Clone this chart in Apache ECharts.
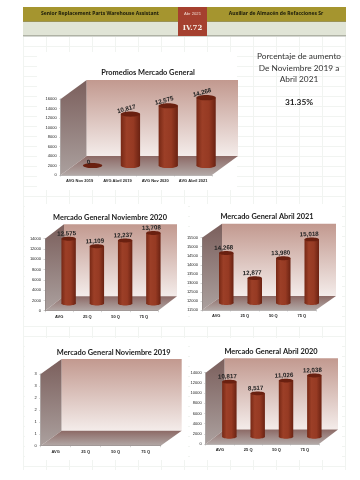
<!DOCTYPE html>
<html><head><meta charset="utf-8">
<style>
html,body{margin:0;padding:0;background:#fff}
#bg{position:absolute;left:23px;top:36px;width:323px;height:434px;
background-image:linear-gradient(to right,#f1f4f1 1px,transparent 1px),linear-gradient(to bottom,#f1f4f1 1px,transparent 1px);
background-size:23px 10px;}
#c{position:absolute;left:0;top:0;width:360px;height:480px;filter:blur(0.3px)}
</style>
<script src="https://cdn.jsdelivr.net/npm/echarts@6/dist/echarts.min.js"></script>
</head><body><div id="bg"></div><div id="c"></div>
<script>
const summaryCategories = ['AVG Nov 2019','AVG Abril 2019','AVG Nov 2020','AVG Abril 2021'];
const quartileCategories = ['AVG','25 Q','50 Q','75 Q'];
const summaryValues = [0,10817,12575,14268];
const nov2020Values = [12575,11109,12237,13708];
const abr2021Values = [14268,12877,13980,15018];
const nov2019Values = [];
const abr2020Values = [10817,8517,11026,12038];
const titles = ['Promedios Mercado General','Mercado General Noviembre 2020','Mercado General Abril 2021','Mercado General Noviembre 2019','Mercado General Abril 2020'];
const percentLines = ['Porcentaje de aumento','De Noviembre 2019 a','Abril 2021'];
const percentValue = '31.35%';

const charts = [
 {cats:summaryCategories,vals:summaryValues,min:0,max:16000,step:2000,box:[60.7,99,151.3,76],depth:[26,-19],title:[143,68],rot:-0.26,ldx:-4,panel:[37,52,200,138]},
 {cats:quartileCategories,vals:nov2020Values,min:0,max:14000,step:2000,box:[45,238.7,113,72],depth:[19,-14.5],title:[105,212.7],rot:-0.04,ldx:-2,panel:[25,204,163,122]},
 {cats:quartileCategories,vals:abr2021Values,min:11500,max:15500,step:500,box:[202,237.7,114,72.3],depth:[20,-14],title:[262,211.7],rot:-0.04,ldx:-2.5,panel:[190,204,152,122]},
 {cats:quartileCategories,vals:nov2019Values,min:0,max:3,step:0.5,box:[40.7,374,120,71.7],depth:[21,-15],title:[108.7,347.7],rot:0,ldx:0,panel:[25,338,163,122]},
 {cats:quartileCategories,vals:abr2020Values,min:0,max:14000,step:2000,box:[205.7,372.7,113.3,71.3],depth:[19,-14.5],title:[266,346.7],rot:-0.04,ldx:-2,panel:[190,338,152,122]}
];

const fontSans = 'Lato, "Noto Sans", sans-serif';
const vGrad = (a,b)=>new echarts.graphic.LinearGradient(0,0,0,1,[{offset:0,color:a},{offset:1,color:b}]);
const cyl = new echarts.graphic.LinearGradient(0,0,1,0,[
 {offset:0,color:'#762815'},{offset:0.3,color:'#9c3f27'},{offset:0.65,color:'#963a23'},{offset:1,color:'#6a2212'}]);

const grid=[],xAxis=[],yAxis=[],series=[],title=[];
const graphic=[];

charts.forEach((c,i)=>{
 const [gx,gy,gw,gh]=c.box,[dx,dy]=c.depth;
 graphic.push({type:'rect',z:-10,silent:true,shape:{x:c.panel[0],y:c.panel[1],width:c.panel[2],height:c.panel[3]},style:{fill:'#fff'}});
 grid.push({left:gx,top:gy,width:gw,height:gh});
 xAxis.push({type:'category',gridIndex:i,data:c.cats,z:5,
  axisLine:{lineStyle:{color:'#8a8280',width:0.6}},axisTick:{show:true,length:1.5,lineStyle:{color:'#aaa',width:0.5}},
  axisLabel:{interval:0,fontSize:4,fontWeight:'bold',color:'#222',margin:4,fontFamily:'"Liberation Sans",sans-serif'}});
 yAxis.push({type:'value',gridIndex:i,min:c.min,max:c.max,interval:c.step,z:5,
  splitLine:{show:false},axisLine:{show:true,lineStyle:{color:'#8a8280',width:0.6}},axisTick:{show:true,length:1.5,lineStyle:{color:'#aaa',width:0.5}},
  axisLabel:{fontSize:4,color:'#222',margin:4,fontFamily:'"Liberation Sans",sans-serif',
   formatter:(v)=>String(Math.round(v))}});
 title.push({text:titles[i],left:c.title[0],top:c.title[1]-5,textAlign:'center',
  textStyle:{fontSize:7.4,fontWeight:'bold',color:'#1a1a1a',fontFamily:fontSans,lineHeight:10}});
 series.push({type:'custom',xAxisIndex:i,yAxisIndex:i,data:[[0,c.min]],silent:true,z:1,clip:false,
  renderItem:(p)=>{const r=p.coordSys;const x=r.x,y=r.y,w=r.width,h=r.height;
   return {type:'group',children:[
    {type:'polygon',shape:{points:[[x,y+h],[x,y],[x+dx,y+dy],[x+dx,y+h+dy]]},style:{fill:vGrad('#7b5f5c','#aba09e')}},
    {type:'rect',shape:{x:x+dx,y:y+dy,width:w,height:h},style:{fill:vGrad('#c2998f','#f4ecea')}},
    {type:'polygon',shape:{points:[[x,y+h],[x+w,y+h],[x+w+dx,y+h+dy],[x+dx,y+h+dy]]},style:{fill:vGrad('#8c6965','#b2a8a6')}}
   ]};}});
 if(c.vals.length) series.push({type:'custom',xAxisIndex:i,yAxisIndex:i,silent:true,z:3,clip:false,
  encode:{x:0,y:1},data:c.vals.map((v,k)=>[k,v]),
  renderItem:(p,api)=>{
   const k=api.value(0),v=api.value(1);
   const top=api.coord([k,v]),base=api.coord([k,c.min]);
   const bw=api.size([1,0])[0]*0.51,rx=bw/2,ry=bw*0.135;
   const cx=top[0]+dx/2,ty=top[1]+dy/2,by=base[1]+dy/2;
   const kids=[];
   if(v>c.min){
    kids.push({type:'ellipse',shape:{cx:cx,cy:by,rx:rx,ry:ry},style:{fill:cyl}});
    kids.push({type:'rect',shape:{x:cx-rx,y:ty,width:bw,height:by-ty},style:{fill:cyl}});
   }
   kids.push({type:'ellipse',shape:{cx:cx,cy:ty,rx:rx,ry:ry},style:{fill:'#6a2010'}});
   kids.push({type:'text',x:cx+c.ldx,y:ty-(v>c.min?5:3),rotation:-c.rot,
    style:{text:v.toLocaleString('en-US'),align:'center',verticalAlign:'middle',
     font:'bold 6.2px "Liberation Sans",sans-serif',fill:'#222'}});
   return {type:'group',children:kids};
  }});
});

const txt=(t,x,y,font,fill)=>({type:'text',z:20,silent:true,x:x,y:y,style:{text:t,align:'center',verticalAlign:'middle',font:font,fill:fill}});
const rect=(x,y,w,h,fill)=>({type:'rect',z:10,silent:true,shape:{x,y,width:w,height:h},style:{fill}});
graphic.push(
 rect(23,7,323,15,'#a5952f'),rect(23,22,323,14,'#e0e4d6'),
 rect(23,35.5,323,0.8,'#7f8074'),rect(23,21.5,323,0.6,'#8f8f7c'),
 rect(178,7,29,15,'#a5402f'),rect(178,22,29,14,'#a5402f'),
 txt('Senior Replacement Parts Warehouse Assistant',100,14,'bold 5px "Noto Sans",sans-serif','#1a1a0a'),
 txt('Abr 2021',192.5,14,'4.2px "Liberation Sans",sans-serif','#eed8cf'),
 txt('IV.72',192.5,28.5,'bold 7px "DejaVu Serif",serif','#f4ece4'),
 txt('Auxiliar de Almacén de Refacciones Sr',276,14,'bold 5px "Noto Sans",sans-serif','#1a1a0a'),
 txt(percentLines[0],299,56.7,'8.3px Lato,sans-serif','#333'),
 txt(percentLines[1],299,68,'8.3px Lato,sans-serif','#333'),
 txt(percentLines[2],299,79,'8.3px Lato,sans-serif','#333'),
 txt(percentValue,299,102,'bold 8.3px Lato,sans-serif','#222')
);

const chart=echarts.init(document.getElementById('c'),null,{renderer:'canvas',width:360,height:480});
chart.setOption({animation:false,backgroundColor:'transparent',title,grid,xAxis,yAxis,series,graphic});
</script></body></html>
